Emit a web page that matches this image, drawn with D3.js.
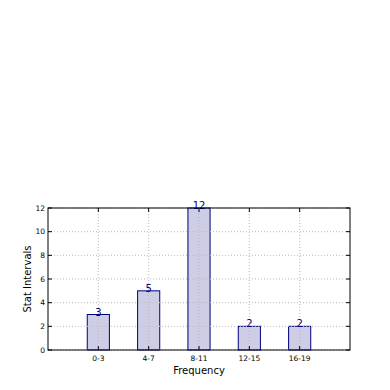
<!DOCTYPE html>
<html>
<head>
<meta charset="utf-8">
<script src="https://cdn.jsdelivr.net/npm/d3@7"></script>
<style>
  body { margin: 0; background: #fff; }
  svg { font-family: "DejaVu Sans", sans-serif; }
</style>
</head>
<body>
<div id="chart"></div>
<script>
var categories = ["0-3", "4-7", "8-11", "12-15", "16-19"];
var counts = [3, 5, 12, 2, 2];
var yTicks = [0, 2, 4, 6, 8, 10, 12];

var margin = { left: 48, right: 40, top: 208, bottom: 40 };
var width = 390 - margin.left - margin.right;
var height = 390 - margin.top - margin.bottom;

var svg = d3.select("#chart").append("svg")
    .attr("width", 390)
    .attr("height", 390);

var g = svg.append("g")
    .attr("transform", "translate(" + margin.left + "," + margin.top + ")");

var x = d3.scaleLinear().domain([0, categories.length + 1]).range([0, width]);
var y = d3.scaleLinear().domain([0, 12]).range([height, 0]);
var barW = 0.44;

// bars
g.selectAll(".bar").data(counts).enter().append("rect")
    .attr("x", function(d, i) { return x(i + 1 - barW / 2); })
    .attr("width", x(barW) - x(0))
    .attr("y", function(d) { return y(d); })
    .attr("height", function(d) { return y(0) - y(d); })
    .attr("fill", "#cdcde6")
    .attr("stroke", "#000080")
    .attr("stroke-width", 1);

// grid on top of bars
g.selectAll(".vgrid").data(categories).enter().append("line")
    .attr("x1", function(d, i) { return x(i + 1); })
    .attr("x2", function(d, i) { return x(i + 1); })
    .attr("y1", 0).attr("y2", height)
    .attr("stroke", "#bbbbbb").attr("stroke-dasharray", "1,2");
g.selectAll(".hgrid").data(yTicks).enter().append("line")
    .attr("x1", 0).attr("x2", width)
    .attr("y1", function(d) { return y(d); })
    .attr("y2", function(d) { return y(d); })
    .attr("stroke", "#bbbbbb").attr("stroke-dasharray", "1,2");

// value labels
g.selectAll(".val").data(counts).enter().append("text")
    .attr("x", function(d, i) { return x(i + 1); })
    .attr("y", function(d) { return y(d) + 1; })
    .attr("text-anchor", "middle")
    .attr("font-size", "10px")
    .attr("fill", "#000080")
    .text(function(d) { return d; });

// frame
g.append("rect").attr("width", width).attr("height", height)
    .attr("fill", "none").attr("stroke", "#000").attr("stroke-width", 1);

// ticks
yTicks.forEach(function(t) {
  g.append("line").attr("x1", 0).attr("x2", 4).attr("y1", y(t)).attr("y2", y(t)).attr("stroke", "#000");
  g.append("line").attr("x1", width).attr("x2", width - 4).attr("y1", y(t)).attr("y2", y(t)).attr("stroke", "#000");
  g.append("text").attr("x", -3).attr("y", y(t)).attr("dy", "0.35em")
    .attr("text-anchor", "end").attr("font-size", "7.5px").text(t);
});
categories.forEach(function(c, i) {
  g.append("line").attr("x1", x(i + 1)).attr("x2", x(i + 1)).attr("y1", height).attr("y2", height - 4).attr("stroke", "#000");
  g.append("line").attr("x1", x(i + 1)).attr("x2", x(i + 1)).attr("y1", 0).attr("y2", 4).attr("stroke", "#000");
  g.append("text").attr("x", x(i + 1)).attr("y", height + 11)
    .attr("text-anchor", "middle").attr("font-size", "7.5px").text(c);
});

// axis labels
g.append("text").attr("x", width / 2).attr("y", height + 24)
    .attr("text-anchor", "middle").attr("font-size", "10px").text("Frequency");
g.append("text")
    .attr("transform", "translate(-17," + (height / 2) + ") rotate(-90)")
    .attr("text-anchor", "middle").attr("font-size", "10px").text("Stat Intervals");
</script>
</body>
</html>
